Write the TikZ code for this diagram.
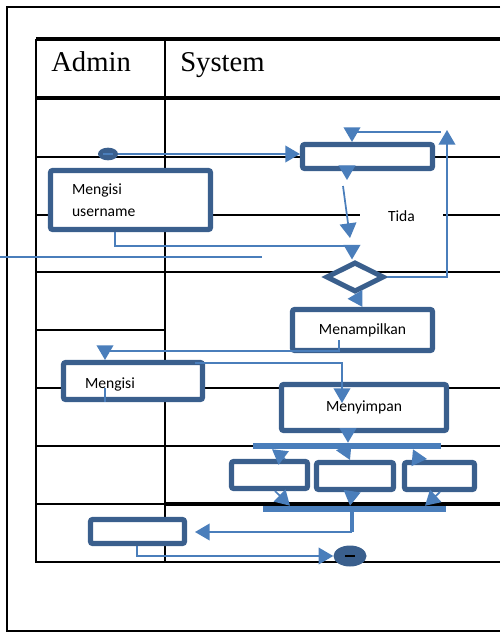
\documentclass[tikz,border=0pt]{standalone}
\usepackage{fontspec}
\setmainfont{Liberation Serif}
\newfontfamily\calibri{Carlito}
\usetikzlibrary{arrows.meta,shapes.geometric}
\definecolor{boxblue}{HTML}{3A5F8D}
\definecolor{linkblue}{HTML}{4A7EBB}
\begin{document}
\begin{tikzpicture}[x=0.75pt,y=-0.75pt,
  lane/.style={line width=1.3pt},
  head/.style={line width=2.3pt},
  act/.style={draw=boxblue,line width=3.8pt,rounded corners=1.5pt,fill=white,
    font=\calibri\fontsize{11.7}{16.5}\selectfont},
  link/.style={draw=linkblue,line width=1.3pt},
  flow/.style={link,-{Triangle[width=12.5pt,length=11pt]}},
  bar/.style={fill=linkblue,inner sep=0pt,minimum height=4.5pt}]
\useasboundingbox (0,0) rectangle (500,632);
% frame and swimlanes
\draw[line width=1.5pt] (500,7) -- (7,7) -- (7,631) -- (500,631);
\draw[head] (36,39) -- (500,39);
\draw[head] (36,98) -- (500,98);
\draw[lane] (36,39) -- (36,562) -- (500,562);
\draw[lane] (165,39) -- (165,562);
\foreach \y in {157,215,272,388,446} \draw[lane] (36,\y) -- (500,\y);
\draw[lane] (36,330) -- (165,330);
\draw[lane] (36,504) -- (165,504);
\draw[head] (165,504) -- (500,504);
\node[anchor=base west,inner sep=0pt,font=\fontsize{21.5}{26}\selectfont] (admin) at (51,71.5) {Admin};
\node[anchor=base west,inner sep=0pt,font=\fontsize{21.5}{26}\selectfont] (system) at (180,71.5) {System};
\node[fill=white,minimum width=62pt,minimum height=14pt,font=\calibri\fontsize{11.7}{14}\selectfont] (tida) at (401.5,216) {Tida};
% activities
\node[fill=boxblue,ellipse,minimum width=15pt,minimum height=9.5pt,inner sep=0pt] (mulai) at (108,154) {};
\node[act,minimum width=97.5pt,minimum height=18pt] (cek) at (367.5,156.5) {};
\node[act,align=left,text width=87.75pt,inner xsep=16.1pt,minimum width=120pt,minimum height=44.25pt] (isiuser) at (130.5,200) {Mengisi\\username};
\node[act,diamond,rounded corners=0pt,inner sep=0pt,minimum width=43.5pt,minimum height=22.5pt] (cabang) at (355,277) {};
\node[act,minimum width=105pt,minimum height=30.75pt] (tampil) at (362.5,330) {Menampilkan};
\node[act,align=left,text width=72pt,inner xsep=16.1pt,text height=10.5pt,text depth=0pt,minimum width=104.25pt,minimum height=27.75pt] (isidata) at (133,381) {Mengisi};
\node[act,minimum width=123.75pt,minimum height=34.5pt] (simpan) at (364,407.5) {Menyimpan};
\node[bar,minimum width=141pt] (garpu) at (347,446) {};
\node[act,minimum width=57pt,minimum height=20.25pt] (prosesA) at (269.5,475) {};
\node[act,minimum width=57.75pt,minimum height=20.25pt] (prosesB) at (355,476) {};
\node[act,minimum width=52.5pt,minimum height=20.25pt] (prosesC) at (439.5,476) {};
\node[bar,minimum width=137.25pt] (gabung) at (354.5,509) {};
\node[act,minimum width=70.5pt,minimum height=18pt] (akhir) at (137.5,531.5) {};
\node[fill=boxblue,ellipse,minimum width=24.75pt,minimum height=15.75pt,inner sep=0pt] (selesai) at (350,556) {};
% flows
\draw[link] (mulai.center) ++(-5,0) -- ++(10,0);
\draw[flow] (mulai) -- (mulai -| cek.west);
\draw[flow] (cek.south -| 347,0) -- ++(0,9);
\coordinate (c1) at (343,186);
\coordinate (c2) at (350,238);
\draw[flow] (c1) -- (c2);
\draw[flow] (isiuser.south -| 115,0) |- (352,246) -- (cabang.north -| 352,0);
\draw[flow] (cabang.east) -| (447,130);
\draw[flow] (441,132) -| (cek.north -| 352,0);
\draw[flow] (cabang.south) -- (tampil.north);
\draw[flow] (339,340) |- (105,351) -- (isidata.north -| 105,0);
\draw[link] (105,388) -- (isidata.south -| 105,0);
\draw[flow] (195,363) -| (342,403);
\draw[flow] (simpan.south -| 348,0) -- (garpu.north -| 348,0);
\draw[flow] (prosesA.north -| 285,0) -- (garpu.south -| 272,0);
\draw[flow] (garpu.south -| 345,0) -- (prosesB.north -| 350,0);
\draw[flow] (prosesC.north -| 418,0) -- (garpu.south -| 413,0);
\draw[flow] (prosesA.south -| 275,0) -- (gabung.north -| 290,0);
\draw[flow] (prosesB.south -| 352,0) -- (gabung.north -| 350,0);
\draw[flow] (prosesC.south -| 440,0) -- (gabung.north -| 425,0);
\draw[linkblue,line width=3.5pt] (gabung.south -| 352,0) -- (352,532);
\draw[flow] (352,532) -- (195,532);
\draw[flow] (akhir.south -| 137,0) |- (selesai.west);
\draw[black,line width=2.2pt] (selesai.center) ++(-5,0) -- ++(10,0);
\draw[link] (0,257) -- (262,257);
\end{tikzpicture}
\end{document}
